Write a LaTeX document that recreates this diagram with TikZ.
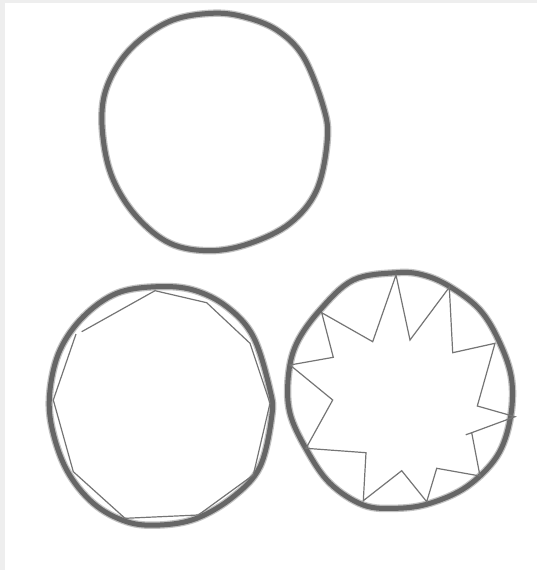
\documentclass[tikz,border=0pt]{standalone}
\usepackage{tikz}
\usetikzlibrary{calc}
\definecolor{ringgray}{HTML}{666666}
\definecolor{edgegray}{HTML}{EEEEEE}

\begin{document}
\begin{tikzpicture}[
    x=1pt, y=-1pt,
    ring/.style={draw=ringgray, line width=5pt, line join=round},
    ringsoft/.style={draw=ringgray!40, line width=7.5pt, line join=round},
    poly/.style={draw=ringgray!90, line width=1.2pt, line join=miter}
]
    % 背景与边框
    \useasboundingbox (0,0) rectangle (537,570);
    \fill[white] (0,0) rectangle (537,570);
    \fill[edgegray] (0,0) rectangle (537,3);
    \fill[edgegray] (0,0) rectangle (4.5,570);

    % 上方的圆
    \foreach \st in {ringsoft, ring}
    \draw[\st] plot[smooth cycle, tension=0.6] coordinates {
        (211.7,13.3) (243.3,16.7) (276.7,30) (303.3,56.7) (323.3,106.7)
        (327.3,140) (316.7,190) (290,223.3) (250,243.3) (210,250.7)
        (170,243.3) (136.7,216.7) (113.3,180) (103.3,140) (103.3,100)
        (116.7,66.7) (140,40) (173,20)};

    % 左下：圆与内接多边形
    \foreach \st in {ringsoft, ring}
    \draw[\st] plot[smooth cycle, tension=0.6] coordinates {
        (156.7,286.7) (193.3,290) (226.7,306.7) (253.3,336.7) (270,390)
        (271.7,416.7) (260,466.7) (233.3,496.7) (196.7,518.3) (160,525)
        (126.7,521.7) (93.3,503.3) (66.7,470) (51.7,426.7) (50,390)
        (60,350) (83.3,316.7) (116.7,293.3)};
    \draw[poly] (81.7,331.7) -- (155,290.7) -- (206.7,302.7) -- (250,343.3)
        -- (270,403.3) -- (253.3,475) -- (198.3,515) -- (125,518.3)
        -- (73.3,471.7) -- (53.3,400) -- (76,334);

    % 右下：圆与星形
    \foreach \st in {ringsoft, ring}
    \draw[\st] plot[smooth cycle, tension=0.6] coordinates {
        (396.7,272.7) (423.3,275) (450,286.7) (480,310) (500,343.3)
        (511.7,380) (510,420) (496.7,456.7) (466.7,486.7) (430,503.3)
        (396.7,508.3) (363.3,505) (330,483.3) (306.7,450) (290,413.3)
        (288.3,376.7) (296.7,343.3) (320,310) (353.3,280)};
    \draw[poly] (396,275) -- (410,340) -- (449.3,287.3) -- (452.7,352.7)
        -- (495,343.3) -- (477.3,406) -- (515,416.7) -- (471.7,432.7)
        -- (480,476) -- (436.7,468.3) -- (426.7,501.7)
        -- (401.7,470.7) -- (363.3,500.7) -- (366,452.7) -- (306,448.3)
        -- (332.7,400) -- (290,365) -- (333.3,357.3) -- (321.7,312.7)
        -- (372.7,341.7) -- cycle;
    \draw[poly] (471.7,432.7) -- (465.7,434.8);
\end{tikzpicture}
\end{document}
